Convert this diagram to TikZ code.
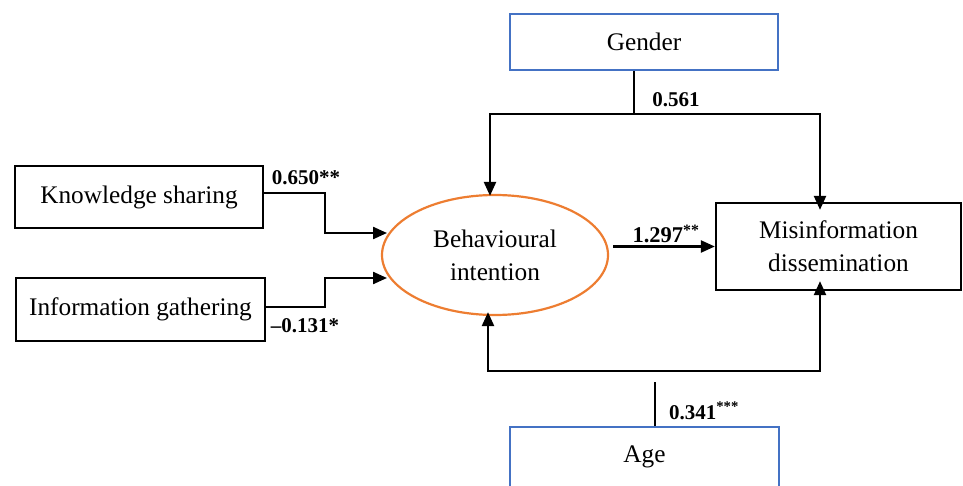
\documentclass[tikz,border=0pt]{standalone}
\usepackage{fontspec}
\setmainfont{Liberation Serif}
\usetikzlibrary{arrows.meta,shapes.geometric}
\definecolor{boxblue}{RGB}{68,114,196}
\definecolor{ellorange}{RGB}{237,125,49}
\begin{document}
\begin{tikzpicture}[x=1pt,y=-1pt,
  txt/.style={font=\fontsize{25.3}{33}\selectfont, align=center, inner sep=0pt},
  blackbox/.style={txt, draw=black, line width=2.3pt, rectangle},
  bluebox/.style={txt, draw=boxblue, line width=2pt, rectangle},
  oval/.style={txt, draw=ellorange, line width=2.2pt, ellipse, inner sep=0pt},
  conn/.style={line width=2.3pt, draw=black},
  arr/.style={conn, -{Triangle[length=14pt,width=12pt]}},
  coef/.style={font=\fontsize{21}{24}\bfseries\selectfont, inner sep=0pt}
]
\useasboundingbox (0,0) rectangle (963,486);
\clip (0,0) rectangle (963,486);
% nodes
\node[bluebox, minimum width=268, minimum height=56] (G) at (644,42) {Gender};
\node[bluebox, minimum width=269, minimum height=100, text depth=46pt] (A) at (644.5,477) {Age};
\node[blackbox, minimum width=248, minimum height=62] (KS) at (139,197) {Knowledge sharing};
\node[blackbox, minimum width=249, minimum height=63] (IG) at (140.5,309.5) {Information gathering};
\node[blackbox, minimum width=245, minimum height=87] (MD) at (838.5,246.5) {Misinformation\\dissemination};
\node[oval, minimum width=226, minimum height=120] (BI) at (495,255) {Behavioural\\intention};
% coordinates
\coordinate (gj) at (634,114);
\coordinate (gl) at (490,114);
\coordinate (gr) at (820,114);
\coordinate (ks1) at (325,193);
\coordinate (ks2) at (387,233);
\coordinate (ig1) at (325,307);
\coordinate (ig2) at (387,278);
\coordinate (al) at (488,371);
\coordinate (ar) at (820,371);
\coordinate (at) at (655,382);
% Gender connectors
\draw[conn] (G.south -| gj) -- (gj);
\draw[arr] (gj) -- (gl) -- ([yshift=-2pt]gl |- BI.north);
\draw[arr] (gj) -- (gr) -- ([yshift=-8pt]gr |- MD.north);
% predictors
\draw[arr] (KS.east |- ks1) -- (ks1) |- (ks2);
\draw[arr] (IG.east |- ig1) -- (ig1) |- (ig2);
% main path
\draw[arr] ([xshift=4pt]BI.east |- MD.west) -- (MD.west);
% Age connectors
\draw[arr] (ar) -- (al) -- ([yshift=4pt]al |- BI.south);
\draw[arr] (al) -- (ar) -- ([yshift=10pt]ar |- MD.south);
\draw[line width=2.9pt] (572,371) -- (627,371);
\draw[conn] (A.north -| at) -- (at);
% coefficients
\node[coef] (c1) at (676,100) {0.561};
\node[coef] (c2) at (306,178) {0.650**};
\node[coef] (c3) at (305,326) {\textendash0.131*};
\node[coef, font=\fontsize{22.5}{24}\bfseries\selectfont] (c4) at (666,234) {1.297\textsuperscript{**}};
\node[coef] (c5) at (704,411) {0.341\textsuperscript{***}};
\end{tikzpicture}
\end{document}
